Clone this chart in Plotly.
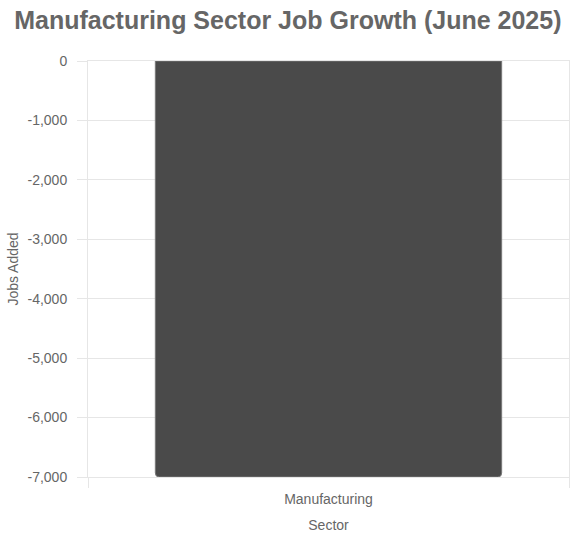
import plotly.graph_objects as go

categories = ["Manufacturing"]
jobs_added = [-7000]
y_tickvals = [0, -1000, -2000, -3000, -4000, -5000, -6000, -7000]
y_ticktext = ["0", "-1,000", "-2,000", "-3,000", "-4,000", "-5,000", "-6,000", "-7,000"]

FONT = "Liberation Sans, Arial, sans-serif"
GRID = "#e6e6e6"
TXT = "#666666"

fig = go.Figure(go.Bar(
    x=categories,
    y=jobs_added,
    marker=dict(color="#4a4a4a", line=dict(color="#777777", width=1)),
    width=0.72,
    hoverinfo="x+y",
))

fig.update_layout(
    width=570, height=542,
    margin=dict(l=88, r=1, t=61, b=65),
    paper_bgcolor="white", plot_bgcolor="white",
    barcornerradius=4,
    showlegend=False,
    font=dict(family=FONT, color=TXT, size=14),
    title=dict(
        text="<b>Manufacturing Sector Job Growth (June 2025)</b>",
        font=dict(family=FONT, size=25, color=TXT),
        x=0.505, xanchor="center", y=0.963, yanchor="middle",
    ),
    xaxis=dict(
        title=dict(text="Sector", font=dict(size=14, color=TXT), standoff=14),
        showgrid=False,
        showline=True, linecolor=GRID, linewidth=1, mirror=True,
        ticks="outside", ticklen=10, tickcolor=GRID, tickson="boundaries",
        ticklabelstandoff=9,
        tickfont=dict(size=14, color=TXT),
        zeroline=False,
    ),
    yaxis=dict(
        title=dict(text="Jobs Added", font=dict(size=14, color=TXT), standoff=5),
        range=[-7000, 0],
        tickvals=y_tickvals,
        ticktext=y_ticktext,
        showgrid=True, gridcolor=GRID, gridwidth=1,
        showline=True, linecolor=GRID, linewidth=1, mirror=True,
        ticks="outside", ticklen=10, tickcolor=GRID,
        ticklabelstandoff=7,
        tickfont=dict(size=14, color=TXT),
        zeroline=False,
    ),
)

fig.write_html(
    "out.html",
    config={"displayModeBar": False},
    post_script="document.body.style.margin='0';",
)
